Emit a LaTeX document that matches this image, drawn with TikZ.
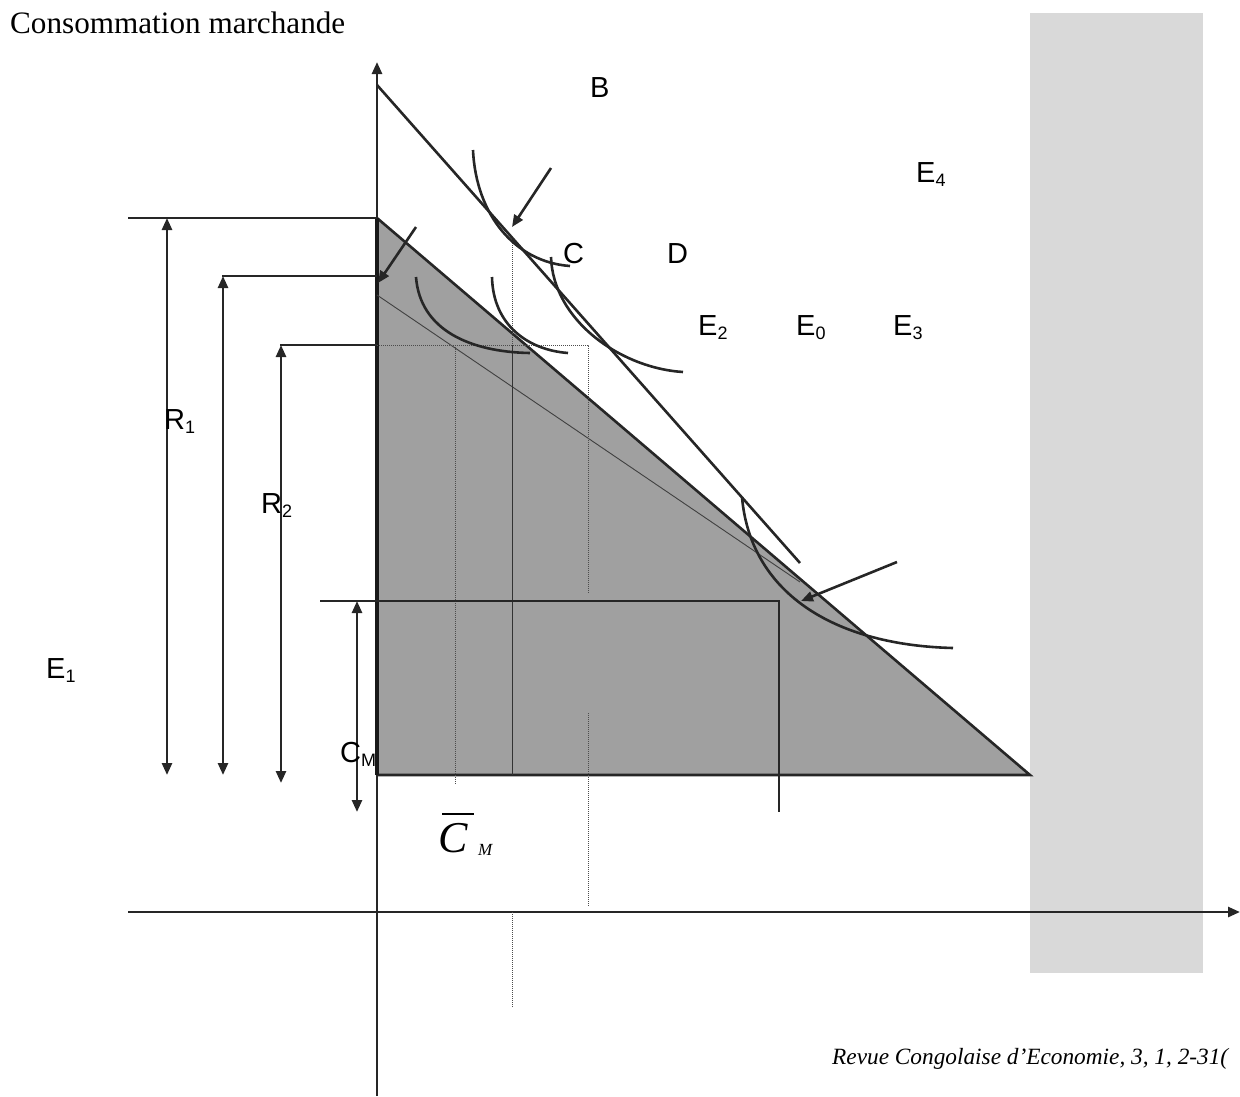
\documentclass[tikz,border=0pt]{standalone}
\usepackage{fontspec}
\setmainfont{Liberation Serif}
\newfontfamily\lsans{Liberation Sans}
\usetikzlibrary{arrows.meta}
\newcommand\subs[1]{\raisebox{-4pt}{\fontsize{18}{18}\selectfont #1}}
\definecolor{lightbar}{RGB}{217,217,217}
\definecolor{darktri}{RGB}{160,160,160}
\begin{document}
\begin{tikzpicture}[x=1pt,y=-1pt,
  ln/.style={line width=2.6pt, draw=black!85},
  thk/.style={line width=3.2pt, draw=black!90},
  thinln/.style={line width=1pt, draw=black!80},
  dots/.style={line width=1pt, draw=black!70, dash pattern=on 1pt off 1pt},
  tip/.style={-{Triangle[length=12pt,width=10pt]}},
  dtip/.style={{Triangle[length=12pt,width=10pt]}-{Triangle[length=12pt,width=10pt]}},
  lab/.style={font=\lsans\fontsize{29}{34}\selectfont, inner sep=0pt, anchor=base west},
]
\useasboundingbox (0,0) rectangle (1240,1096);
% background shapes
\fill[lightbar] (1030,13) rectangle (1203,973);
\fill[darktri] (377,218) -- (1030,775) -- (377,775) -- cycle;
% title and footer
\node[inner sep=0pt, anchor=base west] (title) at (10,33) {\resizebox{335pt}{!}{Consommation marchande}};
\node[inner sep=0pt, anchor=base west, font=\fontsize{23.3}{27}\selectfont\itshape] (foot) at (832,1064) {Revue Congolaise d’Economie, 3, 1, 2-31(};
% axes
\coordinate (yb) at (377,1096); \coordinate (yt) at (377,62);
\coordinate (xl) at (128,912); \coordinate (xr) at (1240,912);
\draw[ln,tip] (yb) -- (yt);
\draw[ln,tip] (xl) -- (xr);
% triangle outline
\coordinate (T1) at (377,218); \coordinate (T2) at (1030,775); \coordinate (T3) at (377,775);
\draw[ln] (T1) -- (T2) -- (T3);
\draw[thk] (T3) -- (T1);
% budget line B and thin line
\coordinate (B1) at (377,85); \coordinate (B2) at (800,563);
\draw[ln] (B1) -- (B2);
\coordinate (L1) at (377,295); \coordinate (L2) at (800,582);
\draw[line width=0.9pt, draw=black!75] (L1) -- (L2);
% dotted guides
\coordinate (P1) at (377,345); \coordinate (P2) at (588,345);
\draw[dots] (P1) -- (P2) -- (588,593);
\draw[dots] (588,713) -- (588,906);
\draw[dots] (455,345) -- (455,785);
\draw[dots] (512,243) -- (512,345);
\draw[thinln] (512,345) -- (512,775);
\draw[dots] (512,912) -- (512,1008);
% horizontal reference lines
\draw[ln] (128,218) -- (T1);
\draw[ln] (222,276) -- (377,276);
\draw[ln] (280,345) -- (P1);
% R arrows
\draw[ln,dtip] (167,218) -- (167,775);
\draw[ln,dtip] (223,276) -- (223,775);
\draw[ln,dtip] (281,345) -- (281,783);
% C_M box
\coordinate (M1) at (320,601); \coordinate (M2) at (779,601); \coordinate (M3) at (779,812);
\draw[ln] (M1) -- (M2) -- (M3);
\draw[ln,dtip] (357,601) -- (357,812);
% indifference curves
\draw[ln] (473,150) .. controls (476,215) and (515,262) .. (570,266);
\draw[ln] (551,257) .. controls (553,320) and (620,368) .. (683,372);
\draw[ln] (492,277) .. controls (493,325) and (528,350) .. (568,353);
\draw[ln] (416,277) .. controls (420,330) and (470,352) .. (530,353);
\draw[ln] (742,497) .. controls (750,590) and (830,645) .. (953,648);
% pointer arrows
\coordinate (a1s) at (551,168); \coordinate (a1e) at (512,227);
\coordinate (a2s) at (416,227); \coordinate (a2e) at (378,283);
\coordinate (a3s) at (897,562); \coordinate (a3e) at (801,601);
\draw[ln,tip] (a1s) -- (a1e);
\draw[ln,tip] (a2s) -- (a2e);
\draw[ln,tip] (a3s) -- (a3e);
% labels
\node[lab] (lB) at (590,97) {B};
\node[lab] (lC) at (563,263) {C};
\node[lab] (lD) at (667,263) {D};
\node[lab] (lE4) at (916,182) {E\subs{4}};
\node[lab] (lE2) at (698,335) {E\subs{2}};
\node[lab] (lE0) at (796,335) {E\subs{0}};
\node[lab] (lE3) at (893,335) {E\subs{3}};
\node[lab] (lR1) at (164,429) {R\subs{1}};
\node[lab] (lR2) at (261,513) {R\subs{2}};
\node[lab] (lE1) at (46,678) {E\subs{1}};
\node[lab] (lCM) at (340,762) {C\subs{M}};
\node[inner sep=0pt, anchor=base west, font=\fontsize{44}{44}\selectfont\itshape] (lCb) at (438,852) {C};
\draw[line width=1.8pt] (442,814) -- (474,814);
\node[inner sep=0pt, anchor=base west, font=\fontsize{17}{17}\selectfont\itshape] (lCbM) at (478,855) {M};
\end{tikzpicture}
\end{document}
